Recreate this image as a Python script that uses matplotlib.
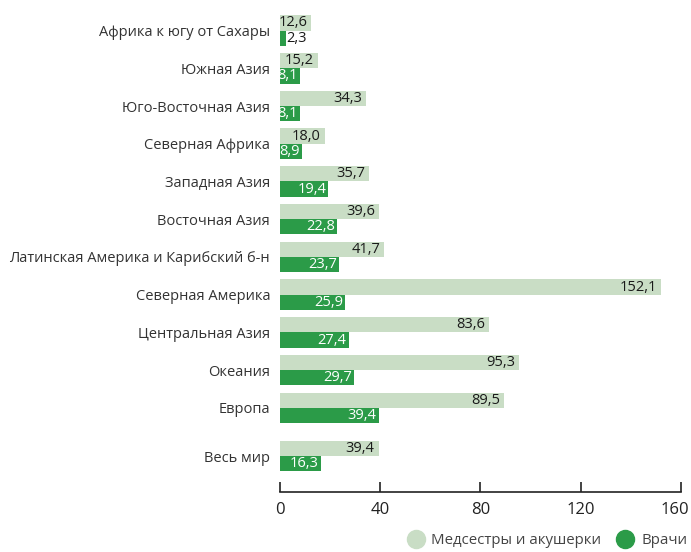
import numpy as np
import matplotlib.pyplot as plt
import matplotlib.transforms as mtransforms
from matplotlib.lines import Line2D

plt.rcParams['font.family'] = ['Open Sans', 'DejaVu Sans']

regions = [
    "Африка к югу от Сахары",
    "Южная Азия",
    "Юго-Восточная Азия",
    "Северная Африка",
    "Западная Азия",
    "Восточная Азия",
    "Латинская Америка и Карибский б-н",
    "Северная Америка",
    "Центральная Азия",
    "Океания",
    "Европа",
    "Весь мир",
]
nurses = [12.6, 15.2, 34.3, 18.0, 35.7, 39.6, 41.7, 152.1, 83.6, 95.3, 89.5, 39.4]
doctors = [2.3, 8.1, 8.1, 8.9, 19.4, 22.8, 23.7, 25.9, 27.4, 29.7, 39.4, 16.3]
xticks = [0, 40, 80, 120, 160]

light = "#c9ddc5"
dark = "#2b9b48"

fmt = lambda v: f"{v:.1f}".replace(".", ",")

fig = plt.figure(figsize=(6.91, 5.52), dpi=100)
ax = fig.add_axes([0.405, 0.1087, 0.5805, 0.8913])

# positions: regular spacing, extra gap before the world total
pos = np.arange(len(regions), dtype=float)
pos[-1] += 0.28
h = 0.405

ax.barh(pos - h / 2, nurses, height=h, color=light)
ax.barh(pos + h / 2, doctors, height=h, color=dark)

px = 160 / 401  # data units per pixel
for y, v in zip(pos, nurses):
    ax.text(v - 4 * px, y - h / 2, fmt(v), ha="right", va="center",
            fontsize=10.5, color="#1a1a1a")
for y, v in zip(pos, doctors):
    if v < 5:
        ax.text(v + 1 * px, y + h / 2, fmt(v), ha="left", va="center",
                fontsize=10.5, color="#1a1a1a")
    else:
        ax.text(v - 2 * px, y + h / 2, fmt(v), ha="right", va="center",
                fontsize=10.5, color="white")

ax.set_yticks(pos)
ax.set_yticklabels(regions, fontsize=10.5, color="#333333")
ax.tick_params(axis="y", length=0, pad=7)

ax.set_xlim(0, 160)
ax.set_ylim(12.23, -0.81)
ax.set_xticks(xticks)
ax.set_xticklabels([str(t) for t in xticks], fontsize=12, color="#222222")
ax.tick_params(axis="x", direction="in", length=7, width=1.2, color="#222222", pad=7)

# nudge the last tick label so it stays inside the image, as in the original
last = ax.get_xticklabels()[-1]
last.set_transform(last.get_transform() +
                   mtransforms.ScaledTranslation(-6 / 100, 0, fig.dpi_scale_trans))

for s in ["top", "right", "left"]:
    ax.spines[s].set_visible(False)
ax.spines["bottom"].set_color("#222222")
ax.spines["bottom"].set_linewidth(1.2)

handles = [
    Line2D([], [], marker="o", linestyle="", markersize=13, color=light),
    Line2D([], [], marker="o", linestyle="", markersize=13, color=dark),
]
fig.legend(handles, ["Медсестры и акушерки", "Врачи"], loc="center right",
           bbox_to_anchor=(1.014, 0.02), ncol=2, frameon=False, fontsize=10.8,
           handletextpad=0.05, columnspacing=0.6, labelcolor="#444444")

fig.savefig("out.png", dpi=100)
